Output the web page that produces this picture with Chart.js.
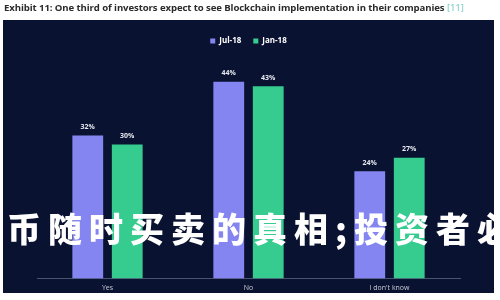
<!DOCTYPE html>
<html>
<head>
<meta charset="utf-8">
<script src="https://cdn.jsdelivr.net/npm/chart.js@4"></script>
<style>
  body { margin: 0; background: #fff; }
  #wrap { position: relative; width: 500px; height: 300px; }
  #myChart { position: absolute; left: 0; top: 0; }
  #title {
    position: absolute; left: 4px; top: 1px;
    font: 700 9.6px "Open Sans", sans-serif; color: #2a2a2a;
    white-space: nowrap; letter-spacing: -0.1px;
  }
  #title span { color: #6cc8c0; font-weight: 400; }
</style>
</head>
<body>
<div id="wrap">
  <canvas id="myChart" width="500" height="300"></canvas>
  <div id="title">Exhibit 11: One third of investors expect to see Blockchain implementation in their companies <span>[11]</span></div>
</div>
<script>
const ctx = document.getElementById("myChart");

const labels = ["Yes", "No", "I don't know"];
const jul18 = [32, 44, 24];
const jan18 = [30, 43, 27];
const seriesNames = ["Jul-18", "Jan-18"];
const barColors = ["#8585f2", "#36cc8f"];
const watermark = "币随时买卖的真相;投资者必";

// dark panel behind the chart
const panelBg = {
  id: "panelBg",
  beforeDraw(chart) {
    const c = chart.ctx;
    c.save();
    c.fillStyle = "#fff";
    c.fillRect(0, 0, 500, 300);
    c.fillStyle = "#0a1231";
    c.fillRect(3, 20, 491, 273);
    c.restore();
  },
};

// percent labels over bars + overlay text
const barLabels = {
  id: "barLabels",
  afterDatasetsDraw(chart) {
    const c = chart.ctx;
    c.save();
    c.fillStyle = "#e6e8f0";
    c.font = "bold 7px 'Open Sans', sans-serif";
    c.textAlign = "center";
    c.textBaseline = "bottom";
    chart.data.datasets.forEach((ds, i) => {
      chart.getDatasetMeta(i).data.forEach((bar, j) => {
        c.fillText(ds.data[j] + "%", bar.x, bar.y - 5);
      });
    });
    c.restore();
  },
  afterDraw(chart) {
    const c = chart.ctx;
    c.save();
    c.fillStyle = "#fff";
    c.font = "900 34px 'Noto Sans CJK SC'";
    c.letterSpacing = "7px";
    c.textBaseline = "middle";
    c.fillText(watermark, 7, 229);
    c.restore();
  },
};

new Chart(ctx, {
  type: "bar",
  data: {
    labels: labels,
    datasets: [
      { label: seriesNames[0], data: jul18, backgroundColor: barColors[0] },
      { label: seriesNames[1], data: jan18, backgroundColor: barColors[1] },
    ],
  },
  options: {
    responsive: false,
    animation: false,
    layout: { padding: { left: 37, right: 40, top: 25, bottom: 3 } },
    datasets: { bar: { categoryPercentage: 0.56, barPercentage: 0.78 } },
    plugins: {
      legend: {
        display: true,
        labels: {
          color: "#ffffff",
          font: { size: 8, weight: "bold", family: "'Open Sans', sans-serif" },
          boxWidth: 5,
          boxHeight: 5,
          padding: 12,
        },
      },
      tooltip: { enabled: false },
    },
    scales: {
      x: {
        grid: { display: false, drawTicks: false },
        border: { display: true, color: "#4a5372", width: 1 },
        ticks: { color: "#c8ccd8", font: { size: 7, family: "'Open Sans', sans-serif" }, padding: 5 },
      },
      y: { display: false, min: 0, max: 50 },
    },
  },
  plugins: [panelBg, barLabels],
});
</script>
</body>
</html>
